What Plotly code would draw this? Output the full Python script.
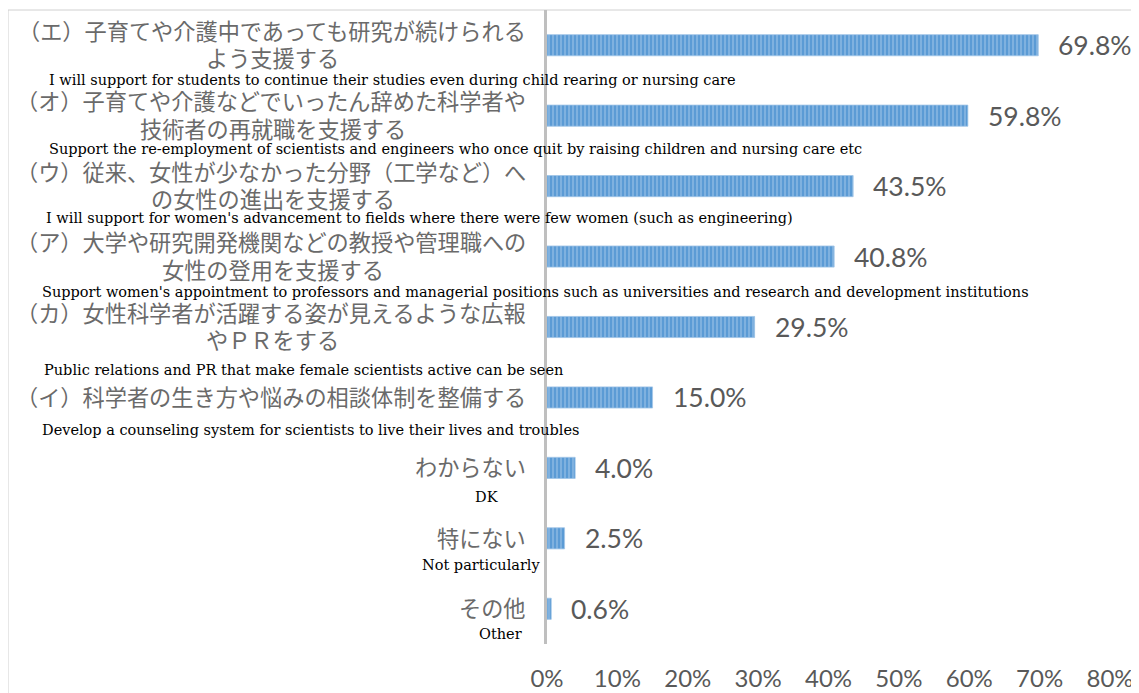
import plotly.graph_objects as go

# ---- data ----
categories_jp = [
    "（エ）子育てや介護中であっても研究が続けられる\nよう支援する",
    "（オ）子育てや介護などでいったん辞めた科学者や\n技術者の再就職を支援する",
    "（ウ）従来、女性が少なかった分野（工学など）へ\nの女性の進出を支援する",
    "（ア）大学や研究開発機関などの教授や管理職への\n女性の登用を支援する",
    "（カ）女性科学者が活躍する姿が見えるような広報\nやＰＲをする",
    "（イ）科学者の生き方や悩みの相談体制を整備する",
    "わからない",
    "特にない",
    "その他",
]
categories_en = [
    "I will support for students to continue their studies even during child rearing or nursing care",
    "Support the re-employment of scientists and engineers who once quit by raising children and nursing care etc",
    "I will support for women's advancement to fields where there were few women (such as engineering)",
    "Support women's appointment to professors and managerial positions such as universities and research and development institutions",
    "Public relations and PR that make female scientists active can be seen",
    "Develop a counseling system for scientists to live their lives and troubles",
    "DK",
    "Not particularly",
    "Other",
]
values = [69.8, 59.8, 43.5, 40.8, 29.5, 15.0, 4.0, 2.5, 0.6]
tick_vals = [0, 10, 20, 30, 40, 50, 60, 70, 80]
tick_text = ["0%", "10%", "20%", "30%", "40%", "50%", "60%", "70%", "80%"]

# ---- layout helpers (positions/styles, not data) ----
cat_ids = [f"c{i}" for i in range(len(values))]
en_xshift = [-500, -500, -503, -507, -505, -507, -60, -66, -47]
en_anchor = ["left"] * 6 + ["center"] * 3
en_yshift = [-35, -33, -32, -35, -43, -33, -29, -27, -25]

JP_SIZE = 22.2
JP_RIGHT = -19
GRAY = "#595959"

fig = go.Figure()
fig.add_trace(go.Bar(
    y=cat_ids, x=values, orientation="h", width=0.3,
    marker=dict(color="#5B9BD5",
                line=dict(color="#9DC3E6", width=0.8),
                pattern=dict(shape="|", bgcolor="#5B9BD5", fgcolor="#B4D2EE",
                             size=4, solidity=0.4, fillmode="overlay")),
    hoverinfo="skip",
))

annotations = []
jp_font = dict(family="Noto Sans CJK JP", size=JP_SIZE, color="#6A6A6A")
for cid, jp, en, v, xs, anc, ys in zip(cat_ids, categories_jp, categories_en, values,
                                        en_xshift, en_anchor, en_yshift):
    lines = jp.split("\n")
    if len(lines) == 1:
        annotations.append(dict(
            x=0, y=cid, xref="paper", yref="y", text=lines[0], showarrow=False,
            xanchor="right", yanchor="middle", xshift=JP_RIGHT, yshift=1.5,
            font=jp_font))
    else:
        center = JP_RIGHT - len(lines[0]) * JP_SIZE / 2
        annotations.append(dict(
            x=0, y=cid, xref="paper", yref="y", text=lines[0], showarrow=False,
            xanchor="right", yanchor="middle", xshift=JP_RIGHT, yshift=15.5,
            font=jp_font))
        annotations.append(dict(
            x=0, y=cid, xref="paper", yref="y", text=lines[1], showarrow=False,
            xanchor="center", yanchor="middle", xshift=center, yshift=-12,
            font=jp_font))
    annotations.append(dict(
        x=0, y=cid, xref="paper", yref="y", text=en, showarrow=False,
        xanchor=anc, yanchor="middle", xshift=xs, yshift=ys,
        font=dict(family="DejaVu Serif", size=14.5, color="#000000")))
    annotations.append(dict(
        x=v, y=cid, xref="x", yref="y", text=f"{v:.1f}%", showarrow=False,
        xanchor="left", yanchor="middle", xshift=18,
        font=dict(family="Lato", size=26.5, color=GRAY)))

fig.update_layout(
    width=1131, height=685,
    margin=dict(l=539, r=29, t=2, b=49, autoexpand=False),
    paper_bgcolor="white", plot_bgcolor="white",
    showlegend=False, bargap=0.7,
    annotations=annotations,
    shapes=[dict(type="rect", xref="paper", yref="paper",
                 x0=-539 / 563, x1=1.2, y0=-0.3, y1=1.0,
                 line=dict(color="#D0D0D0", width=1), layer="below")],
    xaxis=dict(range=[0, 80], tickvals=tick_vals, ticktext=tick_text,
               showgrid=False, zeroline=False, showline=False, ticks="",
               ticklabelstandoff=18, automargin=False,
               tickfont=dict(family="Lato", size=24, color=GRAY)),
    yaxis=dict(categoryorder="array", categoryarray=cat_ids, range=[8.5, -0.5],
               showticklabels=False, showgrid=False, zeroline=False, automargin=False,
               showline=True, linecolor="#BFBFBF", linewidth=3, ticks=""),
)

fig.write_html("out.html")
